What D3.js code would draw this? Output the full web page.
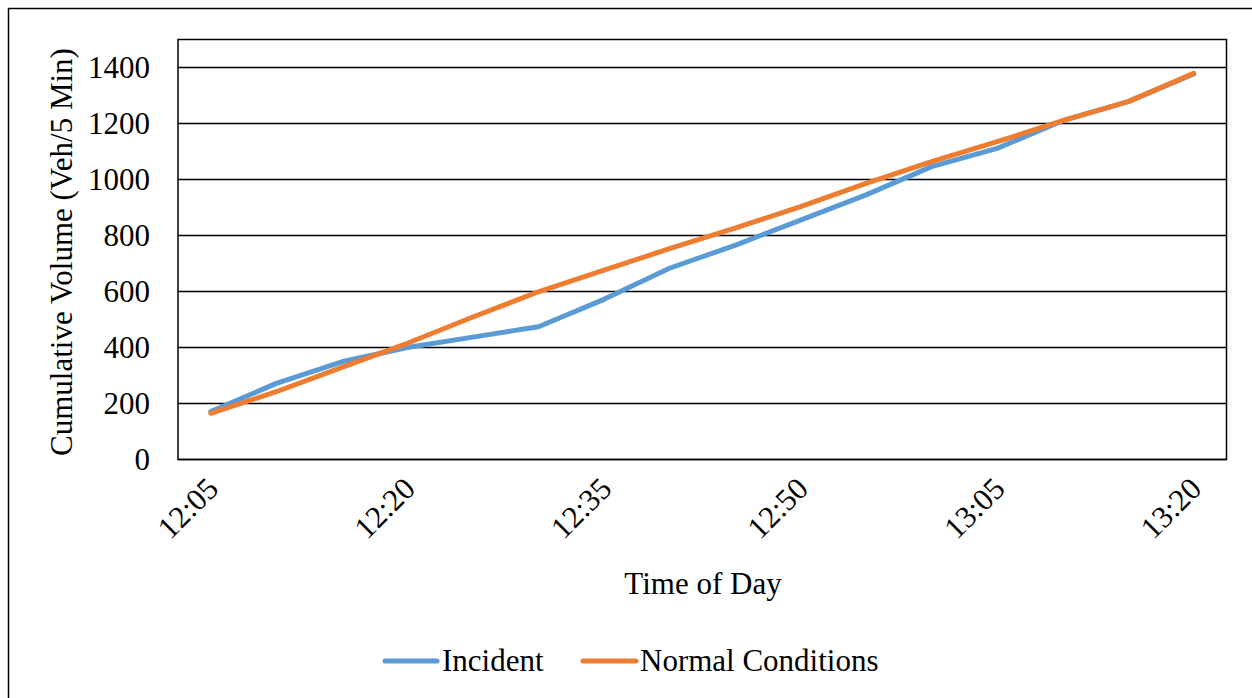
<!DOCTYPE html>
<html>
<head>
<meta charset="utf-8">
<script src="https://cdn.jsdelivr.net/npm/d3@7"></script>
<style>
  html, body { margin: 0; padding: 0; background: #fff; }
  svg { display: block; }
  text { font-family: "Liberation Serif", "Times New Roman", serif; fill: #000; }
</style>
</head>
<body>
<svg id="chart" width="1252" height="698"></svg>
<script>
const times = ["12:05","12:10","12:15","12:20","12:25","12:30","12:35","12:40","12:45","12:50","12:55","13:00","13:05","13:10","13:15","13:20"];
const tickLabels = ["12:05","12:20","12:35","12:50","13:05","13:20"];
const incident = [171, 272, 349, 400, 437, 474, 572, 683, 765, 855, 945, 1046, 1111, 1210, 1278, 1377];
const normal   = [165, 242, 329, 415, 509, 599, 676, 753, 826, 903, 986, 1064, 1135, 1210, 1278, 1379];
const yTicks = [0, 200, 400, 600, 800, 1000, 1200, 1400];
const seriesNames = ["Incident", "Normal Conditions"];
const seriesColors = ["#5B9BD5", "#ED7D31"];

const svg = d3.select("#chart");
const plot = { left: 178, right: 1226.5, top: 39.5, bottom: 459.5 };
const FS = 31;

// outer chart border
svg.append("rect")
  .attr("x", 8.5).attr("y", 8.5).attr("width", 1300).attr("height", 800)
  .attr("fill", "none").attr("stroke", "#000").attr("stroke-width", 1.5);

const x = d3.scalePoint().domain(times).range([plot.left, plot.right]).padding(0.5);
const y = d3.scaleLinear().domain([0, 1500]).range([plot.bottom, plot.top]);

// gridlines
svg.append("g").selectAll("line").data(yTicks).join("line")
  .attr("x1", plot.left).attr("x2", plot.right)
  .attr("y1", d => y(d)).attr("y2", d => y(d))
  .attr("stroke", "#000").attr("stroke-width", 1.5);

// plot border
svg.append("rect")
  .attr("x", plot.left).attr("y", plot.top)
  .attr("width", plot.right - plot.left).attr("height", plot.bottom - plot.top)
  .attr("fill", "none").attr("stroke", "#000").attr("stroke-width", 1.5);

// y axis labels
const yAxis = d3.axisLeft(y).tickValues(yTicks).tickSize(0).tickPadding(28).tickFormat(d3.format("d"));
const gy = svg.append("g").attr("transform", `translate(${plot.left},0)`).call(yAxis);
gy.select(".domain").remove();
gy.selectAll("text").attr("font-size", FS).attr("font-family", "Liberation Serif").attr("fill", "#000");

// x axis labels
const xAxis = d3.axisBottom(x).tickValues(tickLabels).tickSize(0).tickFormat(d => d);
const gx = svg.append("g").attr("transform", `translate(0,${plot.bottom})`).call(xAxis);
gx.select(".domain").remove();
gx.selectAll("text")
  .attr("font-size", FS).attr("font-family", "Liberation Serif").attr("fill", "#000")
  .attr("text-anchor", "end")
  .attr("dy", null).attr("y", 0)
  .attr("transform", "translate(9,31) rotate(-45)");

// axis titles
svg.append("text")
  .attr("x", 703).attr("y", 594)
  .attr("text-anchor", "middle").attr("font-size", FS)
  .text("Time of Day");

svg.append("text")
  .attr("transform", "translate(72,252) rotate(-90)")
  .attr("text-anchor", "middle").attr("font-size", FS)
  .text("Cumulative Volume (Veh/5 Min)");

// lines
const line = d3.line().x((d, i) => x(times[i])).y(d => y(d));
[incident, normal].forEach((vals, k) => {
  svg.append("path")
    .datum(vals)
    .attr("d", line)
    .attr("fill", "none")
    .attr("stroke", seriesColors[k])
    .attr("stroke-width", 5)
    .attr("stroke-linejoin", "round")
    .attr("stroke-linecap", "round");
});

// legend
const legendItems = [
  { name: seriesNames[0], color: seriesColors[0], x0: 385, x1: 437, tx: 442 },
  { name: seriesNames[1], color: seriesColors[1], x0: 583, x1: 636, tx: 640 }
];
const lg = svg.append("g");
legendItems.forEach(it => {
  lg.append("line")
    .attr("x1", it.x0).attr("x2", it.x1).attr("y1", 661).attr("y2", 661)
    .attr("stroke", it.color).attr("stroke-width", 5).attr("stroke-linecap", "round");
  lg.append("text")
    .attr("x", it.tx).attr("y", 671).attr("font-size", FS)
    .text(it.name);
});
</script>
</body>
</html>
